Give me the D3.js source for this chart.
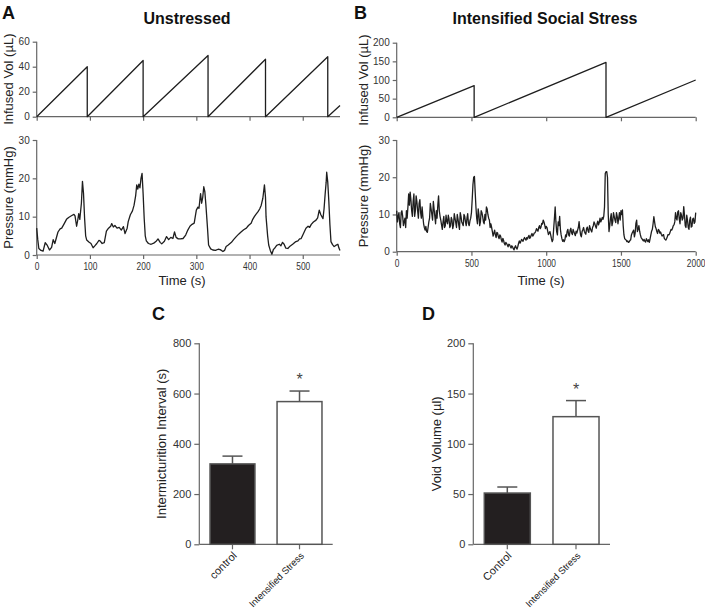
<!DOCTYPE html>
<html>
<head>
<meta charset="utf-8">
<script src="https://cdn.jsdelivr.net/npm/d3@7"></script>
<style>
  body { margin: 0; background: #fff; }
  svg { display: block; font-family: "Liberation Sans", Arial, sans-serif; }
  .axis path, .axis line { stroke: #666; stroke-width: 1.2; }
  .axis text { fill: #333; font-family: "Liberation Sans", Arial, sans-serif; }
</style>
</head>
<body>
<div id="chart"></div>
<script>
// panel A, unstressed: infused volume sawtooth and bladder pressure
const volTimeA = [0, 95, 95, 200, 200, 322, 322, 430, 430, 547, 547, 570];
const volA = [0, 40, 0, 45, 0, 49, 0, 46, 0, 48, 0, 9];

const timeA = [0,2,4,8,12,16,20,24,28,31,34,37,40,44,47,51,56,60,66,70,72,75,77,79,81,84,86,88,90,92,94,98,102,106,110,113,117,119,123,127,131,135,139,141,144,147,151,155,159,163,166,170,172,176,180,183,186,188,190,192,194,196,198,200,202,204,206,210,215,220,224,228,232,235,240,244,248,252,256,259,262,266,270,275,280,284,288,292,296,300,303,305,307,308,310,312,314,316,318,321,323,327,331,336,341,345,350,353,356,360,366,370,375,380,384,389,394,398,403,406,409,412,416,419,422,425,428,430,431,434,436,439,442,445,447,451,456,459,462,465,468,472,476,481,486,491,494,497,501,506,510,513,516,520,525,528,531,534,538,540,542,544,545,547,549,551,553,556,559,562,566,568,570];
const pressA = [7,4,1.7,1.2,1,3.2,2.5,1.3,2,4,3,4.5,6,6.8,7,8,9.3,9.8,10.3,10.6,10.2,7.5,9,10.8,9.3,13.5,19.2,16,9.6,5,3.9,3.4,3,1.9,2.5,3,3.8,3.7,3,3.2,6.2,7,7.5,8.2,7.3,7.7,7,7.2,6.5,7.4,5.6,7,8.7,10.5,11.5,13,15.5,18.3,17.2,18.5,17.5,20,21.3,16,9.6,5,3.7,3,2.8,3.1,3.5,4.2,3.3,2.9,3.6,4.8,4,4.6,4.3,6,4.6,4.2,4.2,4.3,5.2,6.5,7.5,8,8.3,11.7,12.5,12.2,14.8,16,13.5,15,17.8,16.5,13,7,2.6,1.6,1.3,1.2,1.5,1.4,0.9,1.2,2.2,2.6,3.3,4,4.8,5.5,6,6.6,7,7.7,8.3,9.3,10,10.6,11.3,12,13,14.8,18.3,15,10,5,2.6,1.2,0.2,1.5,1.7,2.5,2.8,2.4,3.3,2.8,1.8,1.7,2.3,2.8,3.4,3.7,4.2,4.3,5.5,7,7.5,7.2,8,8.6,9.1,9.7,11.7,10.5,9.5,12,15.7,19,21.6,19,14,8,3.5,2.7,2.2,2.5,2.8,1.8,1.2];

// panel B, intensified social stress
const volTimeB = [0, 518, 518, 1400, 1400, 2000];
const volB = [0, 85, 0, 147, 0, 100];

// pressure read at t = 0, 10, 20 ... 2000 s
const pressB = [
  11,9.5,7.5,10.5,9.5,8,6.5,9,15.5,16, 11,13.5,9.5,15,11,13,10.5,12,7.5,5.8,
  5.4,6.5,9,11.5,8.5,11.5,7.5,9,15,9.5, 7.2,8,6.5,9.8,7.5,8.8,7,8.5,7.2,9,
  6.5,8.8,6,9.5,7.5,10,8,9,7.5,8.3, 10.5,18,20.2,12,7.5,10,8,10.5,8,10,
  12,10,8.5,7.5,5.4,5,4.5,5.2,4,4.5, 3.2,3.6,2.2,2.5,1.8,2,1.4,1.6,0.8,1.2,
  1,1.4,2.9,2.7,3.1,3.4,3.4,3.8,4,3.6, 4.5,4.2,5,5.5,5.8,6.5,6.2,7.6,8.5,7.2,
  6.8,5.5,5,4.5,2.7,6.2,12,5.4,8,9.5, 4.5,2.8,2.7,4.5,5.5,4.5,5.8,5,6,4.8,
  5.5,5.8,8.1,4.5,5.4,6.5,5,6.2,5.6,7, 5.7,6.5,8,6.8,7.5,7.2,9,8.5,8.7,12,
  21.5,20,5.4,9,7,10.5,8.5,10.5,7.5,10.5, 11,11.2,4.5,3.3,2.7,2.5,3,4.5,5.4,4,
  7.6,5.4,7,4.5,3.5,2.9,2.8,3.5,2.7,2.5, 4.5,6,9.4,6.7,5.4,6,5,4.7,4.4,3.6,
  3.1,4,4.5,5.4,5.8,7,8,9,10.7,8.8, 10.5,8.5,12.1,7,9.8,6.5,8.5,6.6,8.8,7.6,
  10.5
];
// pressure read at t = 5, 15, 25 ... 1995 s
const pressBMid = [
  8,10.5,6.5,11,7,9,11,12,12.5,14, 9.5,15.5,11,13.5,9,14,9,9.5,6.5,6.8,
  5.2,8,13,10,13.5,9.5,11,12.5,11,8.5, 6,9.5,7,8.2,9.8,6.5,9.2,6.2,10.2,7.8,
  10,7.2,10.5,8,7,9.5,7,10.2,7,9, 14,20,16,9,11.5,7,11,9.5,7.5,8.5,
  11.5,9,6.5,6.5,4.2,5.8,3.8,5,3.5,4.2, 2.6,3,1.8,2.2,1.3,1.9,1,1.3,0.5,1.6,
  0.7,2.2,2.3,3.3,2.8,3.8,3.1,3.4,4.4,3.9, 4.9,4.5,5.1,6.2,5.5,7,6.6,7.4,8,6.2,
  6.5,4.6,5.4,3.5,3.2,9,8,4.5,7,6, 3.5,3.2,3.2,4,6,4.2,6.3,4.6,5.4,4.3,
  5,6.5,6,4,5.9,5.5,4.7,6.6,5.2,6.2, 5.3,7,7.5,6.3,8.2,7.8,8,9.2,9.5,21,
  21.5,10,7,10.2,8,9.5,7.8,9.5,9,8.5, 10,7,3.5,3.1,2.9,2.6,3.2,5,5.8,5,
  8.5,6,5.5,3.8,3.2,3.3,2.6,3.1,3.2,3.5, 5.5,7.5,8,6.2,4.9,5.8,5.3,4.2,4.6,3.3,
  3.5,4.6,4.8,6,6.3,7.2,10.5,8.5,11,7.5, 9.8,9,9.8,6.5,8.5,6,9.3,6.8,9,8
];
const traceB = pressBMid.flatMap((m, i) => [[i * 10, pressB[i]], [i * 10 + 5, m]])
  .concat([[2000, pressB[200]]]);

// panels C and D
const groupsC = ["control", "Intensified Stress"];
const intervalMean = [320, 568];
const intervalErr = [31, 42];
const groupsD = ["Control", "Intensified Stress"];
const voidMean = [51, 127];
const voidErr = [6, 16];
const barFills = ["#231f20", "#fff"];
const labelSizes = [11, 9.5];

const lineColor = "#1e1e1e";
const textColor = "#222";

const svg = d3.select("#chart").append("svg")
  .attr("width", 705)
  .attr("height", 614);

function drawTrace(o) {
  const g = svg.append("g");
  const x = d3.scaleLinear().domain(o.xDomain).range(o.xRange);
  const y = d3.scaleLinear().domain(o.yDomain).range(o.yRange);

  g.append("g")
    .attr("class", "axis")
    .attr("transform", `translate(0,${o.yRange[0]})`)
    .call(d3.axisBottom(x).tickValues(o.xTicks).tickSize(4).tickPadding(4)
      .tickFormat(o.xLabels ? d3.format("d") : ""))
    .call(g => g.select(".domain").attr("d", `M${o.xRange[0]},0H${o.xRange[1]}`))
    .call(g => g.selectAll("text").attr("font-size", 10.5).attr("transform", "scale(0.8,1)"));

  g.append("g")
    .attr("class", "axis")
    .attr("transform", `translate(${o.xRange[0]},0)`)
    .call(d3.axisLeft(y).tickValues(o.yTicks).tickSize(4).tickPadding(3))
    .call(g => g.select(".domain").attr("d", `M0,${o.yRange[0]}V${o.yRange[1]}`))
    .call(g => g.selectAll("text").attr("font-size", 10));

  const line = d3.line()
    .x(d => x(d[0]))
    .y(d => y(d[1]));

  g.append("path")
    .datum(o.data)
    .attr("fill", "none")
    .attr("stroke", lineColor)
    .attr("stroke-width", 1.3)
    .attr("stroke-linejoin", "round")
    .attr("d", line);

  g.append("text")
    .attr("transform", `translate(${o.titleX},${(o.yRange[0] + o.yRange[1]) / 2}) rotate(-90)`)
    .attr("text-anchor", "middle")
    .attr("fill", textColor)
    .attr("font-size", 13)
    .text(o.yTitle);

  if (o.xTitle) {
    g.append("text")
      .attr("x", o.xTitleX)
      .attr("y", o.yRange[0] + o.xTitleGap)
      .attr("text-anchor", "middle")
      .attr("fill", textColor)
      .attr("font-size", 13)
      .text(o.xTitle);
  }
}

function drawBars(o) {
  const g = svg.append("g");
  const x = d3.scaleBand().domain(o.groups).range(o.xRange)
    .paddingInner(0.33).paddingOuter(0.16);
  const y = d3.scaleLinear().domain(o.yDomain).range(o.yRange);

  g.append("g")
    .attr("class", "axis")
    .attr("transform", `translate(0,${o.yRange[0]})`)
    .call(d3.axisBottom(x).tickSize(5).tickFormat(""))
    .call(g => g.select(".domain").attr("d", `M${o.xRange[0]},0H${o.xRange[1]}`));

  g.append("g")
    .attr("class", "axis")
    .attr("transform", `translate(${o.xRange[0]},0)`)
    .call(d3.axisLeft(y).tickValues(o.yTicks).tickSize(5).tickPadding(3))
    .call(g => g.select(".domain").attr("d", `M0,${o.yRange[0]}V${o.yRange[1]}`))
    .call(g => g.selectAll("text").attr("font-size", 11));

  const bar = g.selectAll(".bar")
    .data(o.groups)
    .join("g");

  bar.append("line")
    .attr("x1", d => x(d) + x.bandwidth() / 2)
    .attr("x2", d => x(d) + x.bandwidth() / 2)
    .attr("y1", (d, i) => y(o.mean[i]))
    .attr("y2", (d, i) => y(o.mean[i] + o.err[i]))
    .attr("stroke", "#555")
    .attr("stroke-width", 1.5);

  bar.append("line")
    .attr("x1", d => x(d) + x.bandwidth() / 2 - 10)
    .attr("x2", d => x(d) + x.bandwidth() / 2 + 10)
    .attr("y1", (d, i) => y(o.mean[i] + o.err[i]))
    .attr("y2", (d, i) => y(o.mean[i] + o.err[i]))
    .attr("stroke", "#555")
    .attr("stroke-width", 1.5);

  bar.append("rect")
    .attr("x", d => x(d))
    .attr("width", x.bandwidth())
    .attr("y", (d, i) => y(o.mean[i]))
    .attr("height", (d, i) => o.yRange[0] - y(o.mean[i]))
    .attr("fill", (d, i) => barFills[i])
    .attr("stroke", "#555")
    .attr("stroke-width", 1.5);

  g.append("text")
    .attr("x", x(o.groups[1]) + x.bandwidth() / 2)
    .attr("y", y(o.mean[1] + o.err[1]) - 6)
    .attr("text-anchor", "middle")
    .attr("fill", "#444")
    .attr("font-size", 16)
    .text("*");

  g.selectAll(".xlab")
    .data(o.groups)
    .join("text")
    .attr("transform", d => `translate(${x(d) + x.bandwidth() / 2 + 5},${o.yRange[0] + 12}) rotate(-45)`)
    .attr("text-anchor", "end")
    .attr("fill", textColor)
    .attr("font-size", (d, i) => labelSizes[i])
    .text(d => d);

  g.append("text")
    .attr("transform", `translate(${o.titleX},${(o.yRange[0] + o.yRange[1]) / 2}) rotate(-90)`)
    .attr("text-anchor", "middle")
    .attr("fill", textColor)
    .attr("font-size", 13)
    .text(o.yTitle);
}

drawTrace({
  data: d3.zip(volTimeA, volA),
  xDomain: [0, 570], xRange: [36.7, 340], xTicks: [0, 100, 200, 300, 400, 500],
  yDomain: [0, 60], yRange: [116.7, 41.7], yTicks: [0, 20, 40, 60],
  yTitle: "Infused Vol (µL)", titleX: 13
});
drawTrace({
  data: d3.zip(timeA, pressA),
  xDomain: [0, 570], xRange: [36.7, 340], xTicks: [0, 100, 200, 300, 400, 500], xLabels: true,
  yDomain: [0, 30], yRange: [255, 140], yTicks: [0, 10, 20, 30],
  yTitle: "Pressure (mmHg)", titleX: 13, xTitle: "Time (s)", xTitleX: 182, xTitleGap: 30
});
drawTrace({
  data: d3.zip(volTimeB, volB),
  xDomain: [0, 2000], xRange: [396.7, 695.7], xTicks: [0, 500, 1000, 1500, 2000],
  yDomain: [0, 200], yRange: [117.3, 42.7], yTicks: [0, 50, 100, 150, 200],
  yTitle: "Infused Vol (µL)", titleX: 368
});
drawTrace({
  data: traceB,
  xDomain: [0, 2000], xRange: [396.7, 695.7], xTicks: [0, 500, 1000, 1500, 2000], xLabels: true,
  yDomain: [0, 30], yRange: [251.7, 140], yTicks: [0, 10, 20, 30],
  yTitle: "Pressure (mmHg)", titleX: 368, xTitle: "Time (s)", xTitleX: 541, xTitleGap: 33
});

drawBars({
  groups: groupsC, mean: intervalMean, err: intervalErr,
  xRange: [199.3, 332.7], yDomain: [0, 800], yRange: [544.3, 343.3],
  yTicks: [0, 200, 400, 600, 800],
  yTitle: "Intermicturition Interval (s)", titleX: 166
});
drawBars({
  groups: groupsD, mean: voidMean, err: voidErr,
  xRange: [473.3, 610], yDomain: [0, 200], yRange: [544.3, 343.3],
  yTicks: [0, 50, 100, 150, 200],
  yTitle: "Void Volume (µl)", titleX: 441
});

// panel letters and titles
const letters = [["A", 2, 19], ["B", 354, 19], ["C", 152, 320], ["D", 422, 320]];
svg.selectAll(".letter")
  .data(letters)
  .join("text")
  .attr("x", d => d[1])
  .attr("y", d => d[2])
  .attr("font-size", 18)
  .attr("font-weight", "bold")
  .attr("fill", "#111")
  .text(d => d[0]);

svg.append("text")
  .attr("x", 187).attr("y", 24)
  .attr("text-anchor", "middle")
  .attr("font-size", 16).attr("font-weight", "bold").attr("fill", "#111")
  .text("Unstressed");
svg.append("text")
  .attr("x", 545).attr("y", 24)
  .attr("text-anchor", "middle")
  .attr("font-size", 16).attr("font-weight", "bold").attr("fill", "#111")
  .text("Intensified Social Stress");
</script>
</body>
</html>
